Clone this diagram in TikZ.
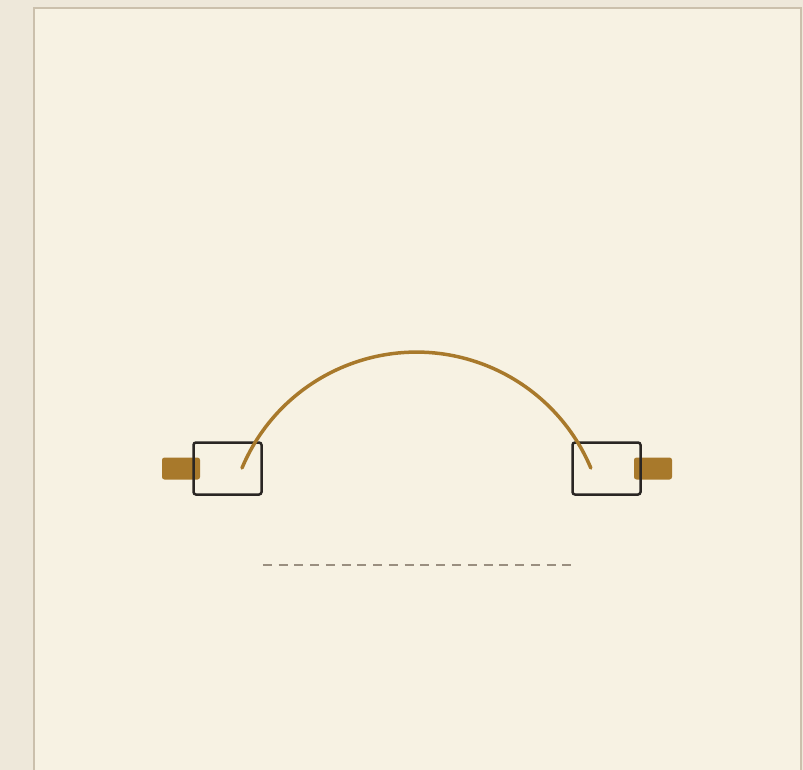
\documentclass[tikz,border=0pt]{standalone}
\usepackage{tikz}
\usetikzlibrary{arrows.meta,positioning,calc}
\definecolor{pageBg}{HTML}{EEE8DA}
\definecolor{panelBg}{HTML}{F7F2E3}
\definecolor{panelEdge}{HTML}{CBC0AC}
\definecolor{ropeGold}{HTML}{A8792B}
\definecolor{hubInk}{HTML}{2A2623}
\definecolor{baseGrey}{HTML}{9A8F80}

\begin{document}
\begin{tikzpicture}[
        x=1pt, y=-1pt,
        hub/.style={draw=hubInk, line width=2.5pt, rounded corners=2.5pt,
          minimum width=68pt, minimum height=52pt, inner sep=0pt},
        tab/.style={fill=ropeGold, rounded corners=2.5pt,
          minimum width=38pt, minimum height=22pt, inner sep=0pt},
        >=Stealth
      ]
        \useasboundingbox (0,0) rectangle (803,770);
        \fill[pageBg] (0,0) rectangle (803,770);
        \filldraw[fill=panelBg, draw=panelEdge, line width=2pt] (34,8) rectangle (801,775);
        % the two ends
        \node[tab] (ltab) at (181,468.5) {};
        \node[tab] (rtab) at (653,468.5) {};
        \node[hub] (lhub) at (227.5,468.5) {};
        \node[hub] (rhub) at (606.5,468.5) {};
        % the arch between them
        \coordinate (archL) at (242,468);
        \draw[ropeGold, line width=3.5pt, line cap=round]
          (archL) arc[start angle=-157.2, end angle=-22.8, radius=189.2];
        % base line
        \coordinate (baseL) at ($(lhub.east)+(0,96.5)$);
        \coordinate (baseR) at ($(rhub.west)+(0,96.5)$);
        \draw[baseGrey, line width=1.6pt, dash pattern=on 9pt off 6.77pt] (baseL) -- (baseR);
      \end{tikzpicture}
\end{document}
